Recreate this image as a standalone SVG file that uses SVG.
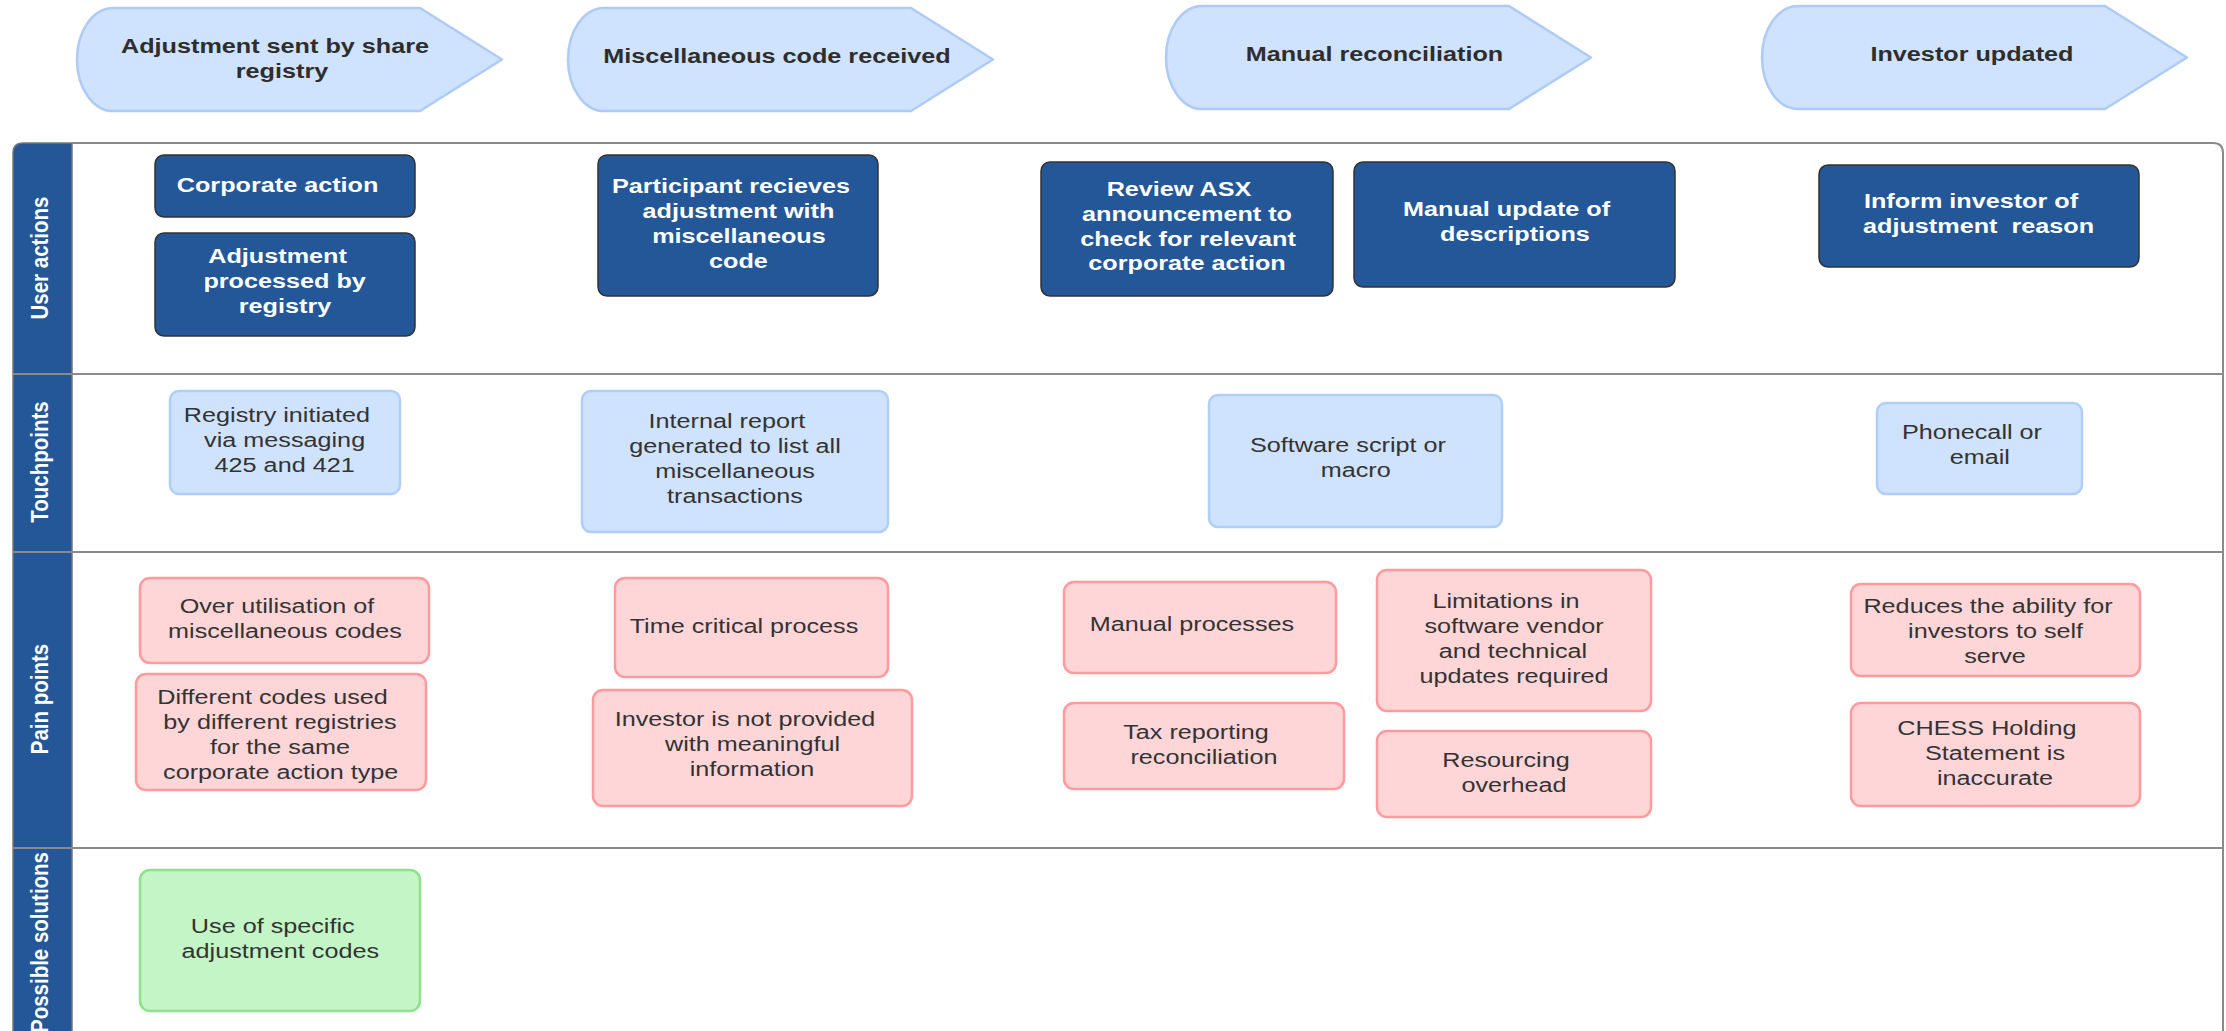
<svg xmlns="http://www.w3.org/2000/svg" xmlns:xlink="http://www.w3.org/1999/xlink" width="2226" height="1031" viewBox="0 0 2226 1031">
<style>
.hd{fill:#cfe2fe;stroke:#aecbf6;stroke-width:2.5;stroke-linejoin:round}
.ua{fill:#235797;stroke:#333;stroke-width:1.5}
.tp{fill:#cfe2fe;stroke:#b0cff8;stroke-width:2.5}
.pp{fill:#ffd6d8;stroke:#ff9b9d;stroke-width:2.5}
.ps{fill:#c3f5c6;stroke:#8fe190;stroke-width:2.5}
.sep{stroke:#8a8a8a;stroke-width:2;fill:none}
text{font-family:"Liberation Sans",Arial,sans-serif;font-size:21px;text-anchor:middle}
.th{font-weight:bold;fill:#2e2e2e}
.tw{font-weight:bold;fill:#ffffff}
.tr{fill:#333333}
.tl{font-weight:bold;fill:#ffffff;font-size:20.5px}
</style>
<defs>
<path id="hdr" d="M36,0 L343,0 L425,51.5 L343,103 L36,103 A36,51.5 0 0 1 36,0 Z"/>
</defs>
<rect width="2226" height="1031" fill="#ffffff"/>

<g id="lanes">
<path d="M13,1045 L13,153 Q13,143 23,143 L72,143 L72,1045 Z" fill="#235797" stroke="#777" stroke-width="1.5"/>
<path class="sep" d="M72,143 L2213,143 Q2223,143 2223,153 L2223,1045" stroke="#9a9a9a"/>
<line class="sep" x1="13" y1="374" x2="2223" y2="374"/>
<line class="sep" x1="13" y1="552" x2="2223" y2="552"/>
<line class="sep" x1="13" y1="848" x2="2223" y2="848"/>
<text class="tl" transform="translate(47.5 258) rotate(-90) scale(1 1.2)">User actions</text>
<text class="tl" transform="translate(47.5 462) rotate(-90) scale(1 1.2)">Touchpoints</text>
<text class="tl" transform="translate(47.5 699) rotate(-90) scale(1 1.2)">Pain points</text>
<text class="tl" transform="translate(47.5 852) rotate(-90) scale(1 1.2)" style="text-anchor:end">Possible solutions</text>
</g>

<g id="stage-adjustment-sent">
<use xlink:href="#hdr" class="hd" transform="translate(77 8)"/>
<text class="th" transform="scale(1.2 1)"><tspan x="229.2" y="53">Adjustment sent by share</tspan><tspan x="235" y="78">registry</tspan></text>
</g>
<g id="stage-misc-code">
<use xlink:href="#hdr" class="hd" transform="translate(568 8)"/>
<text class="th" transform="scale(1.2 1)"><tspan x="647.5" y="63">Miscellaneous code received</tspan></text>
</g>
<g id="stage-manual-recon">
<use xlink:href="#hdr" class="hd" transform="translate(1166 6)"/>
<text class="th" transform="scale(1.2 1)"><tspan x="1145.4" y="61">Manual reconciliation</tspan></text>
</g>
<g id="stage-investor-updated">
<use xlink:href="#hdr" class="hd" transform="translate(1762 6)"/>
<text class="th" transform="scale(1.2 1)"><tspan x="1643.3" y="61">Investor updated</tspan></text>
</g>

<g id="ua-corporate-action">
<rect class="ua" x="155" y="155" width="260" height="62" rx="9"/>
<text class="tw" transform="scale(1.2 1)"><tspan x="231.3" y="192">Corporate action</tspan></text>
</g>
<g id="ua-adjustment-processed">
<rect class="ua" x="155" y="233" width="260" height="103" rx="9"/>
<text class="tw" transform="scale(1.2 1)"><tspan x="231.3" y="263">Adjustment</tspan><tspan x="237.2" y="288">processed by</tspan><tspan x="237.5" y="313">registry</tspan></text>
</g>
<g id="ua-participant-receives">
<rect class="ua" x="598" y="155" width="280" height="141" rx="9"/>
<text class="tw" transform="scale(1.2 1)"><tspan x="609.2" y="193">Participant recieves</tspan><tspan x="615.4" y="218">adjustment with</tspan><tspan x="615.8" y="243">miscellaneous</tspan><tspan x="615.4" y="268">code</tspan></text>
</g>
<g id="ua-review-asx">
<rect class="ua" x="1041" y="162" width="292" height="134" rx="9"/>
<text class="tw" transform="scale(1.2 1)"><tspan x="982.5" y="196">Review ASX</tspan><tspan x="989.2" y="221">announcement to</tspan><tspan x="990" y="246">check for relevant</tspan><tspan x="989.2" y="270">corporate action</tspan></text>
</g>
<g id="ua-manual-update">
<rect class="ua" x="1354" y="162" width="321" height="125" rx="9"/>
<text class="tw" transform="scale(1.2 1)"><tspan x="1255.5" y="216">Manual update of</tspan><tspan x="1262.5" y="241">descriptions</tspan></text>
</g>
<g id="ua-inform-investor">
<rect class="ua" x="1819" y="165" width="320" height="102" rx="9"/>
<text class="tw" transform="scale(1.2 1)" xml:space="preserve"><tspan x="1642.5" y="208">Inform investor of</tspan><tspan x="1648.8" y="233">adjustment  reason</tspan></text>
</g>

<g id="tp-registry-initiated">
<rect class="tp" x="170" y="391" width="230" height="103" rx="9"/>
<text class="tr" transform="scale(1.2 1)"><tspan x="230.8" y="422">Registry initiated</tspan><tspan x="237.2" y="447">via messaging</tspan><tspan x="237.2" y="472">425 and 421</tspan></text>
</g>
<g id="tp-internal-report">
<rect class="tp" x="582" y="391" width="306" height="141" rx="9"/>
<text class="tr" transform="scale(1.2 1)"><tspan x="605.8" y="428">Internal report</tspan><tspan x="612.5" y="453">generated to list all</tspan><tspan x="612.5" y="478">miscellaneous</tspan><tspan x="612.5" y="503">transactions</tspan></text>
</g>
<g id="tp-software-script">
<rect class="tp" x="1209" y="395" width="293" height="132" rx="9"/>
<text class="tr" transform="scale(1.2 1)"><tspan x="1123.3" y="452">Software script or</tspan><tspan x="1129.8" y="477">macro</tspan></text>
</g>
<g id="tp-phonecall">
<rect class="tp" x="1877" y="403" width="205" height="91" rx="9"/>
<text class="tr" transform="scale(1.2 1)"><tspan x="1643.3" y="439">Phonecall or</tspan><tspan x="1649.8" y="464">email</tspan></text>
</g>

<g id="pp-over-utilisation">
<rect class="pp" x="140" y="578" width="289" height="85" rx="10"/>
<text class="tr" transform="scale(1.2 1)"><tspan x="230.8" y="613">Over utilisation of</tspan><tspan x="237.5" y="638">miscellaneous codes</tspan></text>
</g>
<g id="pp-different-codes">
<rect class="pp" x="136" y="674" width="290" height="116" rx="10"/>
<text class="tr" transform="scale(1.2 1)"><tspan x="227.1" y="704">Different codes used</tspan><tspan x="233.3" y="729">by different registries</tspan><tspan x="233.3" y="754">for the same</tspan><tspan x="233.9" y="779">corporate action type</tspan></text>
</g>
<g id="pp-time-critical">
<rect class="pp" x="615" y="578" width="273" height="99" rx="10"/>
<text class="tr" transform="scale(1.2 1)"><tspan x="620" y="633">Time critical process</tspan></text>
</g>
<g id="pp-investor-not-provided">
<rect class="pp" x="593" y="690" width="319" height="116" rx="10"/>
<text class="tr" transform="scale(1.2 1)"><tspan x="620.8" y="726">Investor is not provided</tspan><tspan x="627.1" y="751">with meaningful</tspan><tspan x="626.7" y="776">information</tspan></text>
</g>
<g id="pp-manual-processes">
<rect class="pp" x="1064" y="582" width="272" height="91" rx="10"/>
<text class="tr" transform="scale(1.2 1)"><tspan x="993.3" y="631">Manual processes</tspan></text>
</g>
<g id="pp-tax-reporting">
<rect class="pp" x="1064" y="703" width="280" height="86" rx="10"/>
<text class="tr" transform="scale(1.2 1)"><tspan x="996.7" y="739">Tax reporting</tspan><tspan x="1003.3" y="764">reconciliation</tspan></text>
</g>
<g id="pp-limitations">
<rect class="pp" x="1377" y="570" width="274" height="141" rx="10"/>
<text class="tr" transform="scale(1.2 1)"><tspan x="1255" y="608">Limitations in</tspan><tspan x="1261.7" y="633">software vendor</tspan><tspan x="1260.8" y="658">and technical</tspan><tspan x="1261.7" y="683">updates required</tspan></text>
</g>
<g id="pp-resourcing">
<rect class="pp" x="1377" y="731" width="274" height="86" rx="10"/>
<text class="tr" transform="scale(1.2 1)"><tspan x="1255" y="767">Resourcing</tspan><tspan x="1261.7" y="792">overhead</tspan></text>
</g>
<g id="pp-reduces-ability">
<rect class="pp" x="1851" y="584" width="289" height="92" rx="10"/>
<text class="tr" transform="scale(1.2 1)"><tspan x="1656.7" y="613">Reduces the ability for</tspan><tspan x="1663" y="638">investors to self</tspan><tspan x="1662.5" y="663">serve</tspan></text>
</g>
<g id="pp-chess-holding">
<rect class="pp" x="1851" y="703" width="289" height="103" rx="10"/>
<text class="tr" transform="scale(1.2 1)"><tspan x="1655.8" y="735">CHESS Holding</tspan><tspan x="1662.5" y="760">Statement is</tspan><tspan x="1662.5" y="785">inaccurate</tspan></text>
</g>

<g id="ps-specific-codes">
<rect class="ps" x="140" y="870" width="280" height="141" rx="10"/>
<text class="tr" transform="scale(1.2 1)"><tspan x="227.3" y="933">Use of specific</tspan><tspan x="233.6" y="958">adjustment codes</tspan></text>
</g>

<g id="connectors"/>
</svg>
